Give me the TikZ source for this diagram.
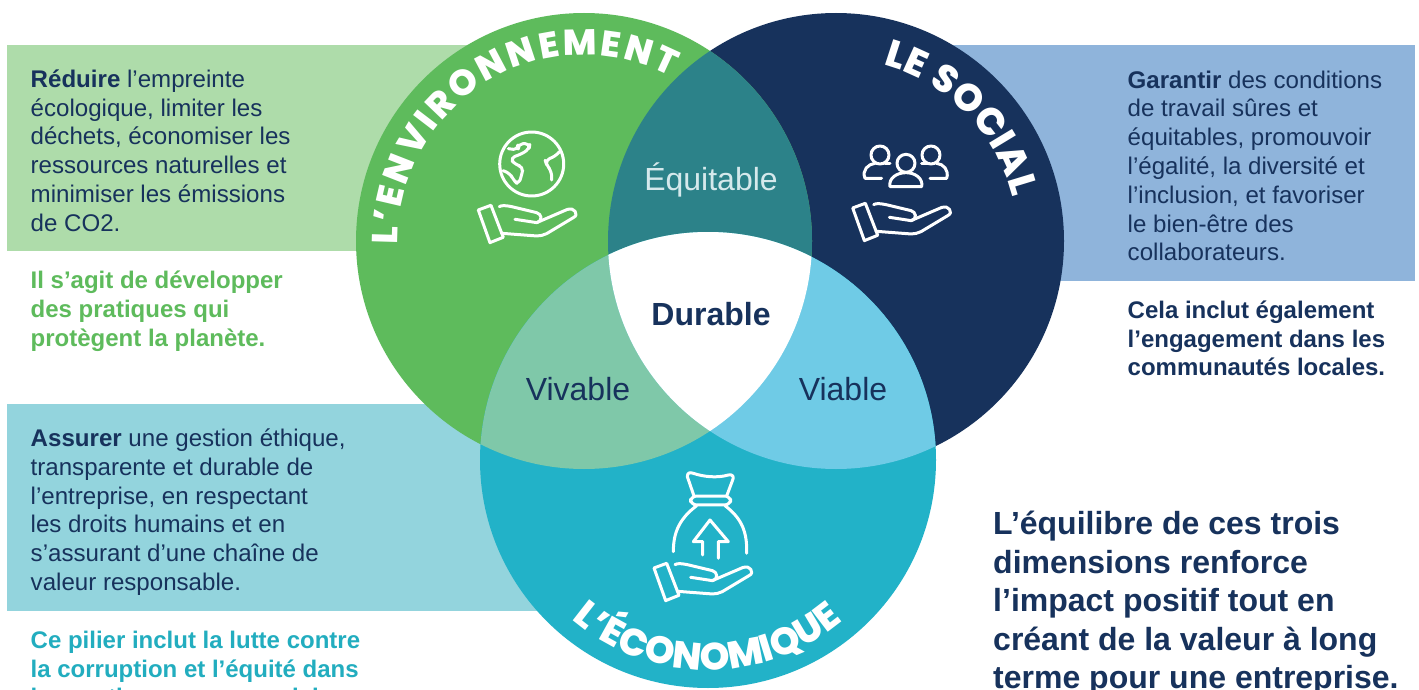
\documentclass[tikz,border=0pt]{standalone}
\usepackage{fontspec}
\setmainfont{Liberation Sans}
\newfontfamily\titlefont{Poppins ExtraBold}
\usetikzlibrary{positioning,decorations.text}
\definecolor{envgreen}{HTML}{5EBB5C}
\definecolor{socnavy}{HTML}{17325C}
\definecolor{ecocyan}{HTML}{22B2C8}
\definecolor{envband}{HTML}{AEDCAA}
\definecolor{socband}{HTML}{8FB4DB}
\definecolor{ecoband}{HTML}{93D4DD}
\definecolor{mixteal}{HTML}{2C8289}
\definecolor{mixgreen}{HTML}{7FC8A9}
\definecolor{mixblue}{HTML}{6FCBE6}
\definecolor{notecyan}{HTML}{22ADBF}
\definecolor{equitext}{HTML}{D5E9EC}
\tikzset{
    iconline/.style={draw=white,line width=3pt,line cap=round,line join=round,x=.3333pt,y=-.3333pt},
    blocktext/.style={anchor=north west,align=left,inner sep=0pt,text=socnavy,font=\fontsize{24.1}{28.8}\selectfont},
    notetext/.style={blocktext,font=\fontsize{24}{28.8}\selectfont\bfseries},
    venntext/.style={inner sep=0pt,text=socnavy,font=\fontsize{32}{32}\selectfont},
    handicon/.pic={
        \draw[iconline] (0,14) -- (38,0) -- (75,96) -- (35,112) -- cycle;
        \draw[iconline] (63,4) .. controls (70,0) and (80,0) .. (100,4) -- (175,22)
            .. controls (190,26) and (195,46) .. (175,52) -- (110,42);
        \draw[iconline] (175,52) -- (268,12) .. controls (285,4) and (305,28) .. (285,37)
            -- (205,85) .. controls (195,90) and (185,92) .. (175,92) -- (70,84);
    }
}
\begin{document}
\begin{tikzpicture}[x=1pt,y=1pt]
    \clip (0,0) rectangle (1419,-690);
    \fill[white] (0,0) rectangle (1419,-690);
    \coordinate (envc) at (584,-241);
    \coordinate (socc) at (836,-241);
    \coordinate (ecoc) at (708,-460);

    % bands behind the circles
    \fill[envband] (7,-45) rectangle (500,-251);
    \fill[socband] (930,-45) rectangle (1415,-281);
    \fill[ecoband] (7,-404) rectangle (560,-611);

    % circles and overlaps
    \fill[socnavy] (socc) circle (228);
    \fill[envgreen] (envc) circle (228);
    \fill[ecocyan] (ecoc) circle (228);
    \foreach \first/\second/\mixcol in {envc/socc/mixteal,envc/ecoc/mixgreen,socc/ecoc/mixblue} {
        \begin{scope}
            \clip (\first) circle (228);
            \fill[\mixcol] (\second) circle (228);
        \end{scope}
    }
    \begin{scope}
        \clip (envc) circle (228);
        \clip (socc) circle (228);
        \fill[white] (ecoc) circle (228);
    \end{scope}

    % titles on the arcs
    \path[decorate,decoration={text along path,text align=fit to path,
        text={|\titlefont\fontsize{36}{36}\selectfont\color{white}|L’ENVIRONNEMENT}}]
        ([shift={(181:186)}]envc) arc[start angle=181,end angle=62,radius=186];
    \path[decorate,decoration={text along path,text align=fit to path,
        text={|\titlefont\fontsize{38}{38}\selectfont\color{white}|LE SOCIAL}}]
        ([shift={(75:182)}]socc) arc[start angle=75,end angle=14,radius=182];
    \path[decorate,decoration={text along path,text align=fit to path,
        text={|\titlefont\fontsize{38}{38}\selectfont\color{white}|L’ÉCONOMIQUE}}]
        ([shift={(229.5:210)}]ecoc) arc[start angle=229.5,end angle=309,radius=210];

    % hands
    \pic at (478.3,-205.3) {handicon};
    \pic at (852.7,-203.3) {handicon};
    \pic at (654,-563.3) {handicon};

    % globe
    \begin{scope}[shift={(531.7,-164)}]
        \draw[iconline] (0,0) circle[radius=96];
        \draw[iconline,rounded corners=5pt] (-70,-46) -- (-40,-42) -- (-42,-60) -- (-5,-62) -- (-8,-44)
            -- (-35,-28) -- (-65,-18) -- (-50,2) -- (-25,8) -- (-30,33) -- (-40,63) -- (-55,48)
            -- (-65,28) -- (-86,20);
        \draw[iconline,rounded corners=5pt] (83,-37) -- (70,-22) -- (40,-12) -- (45,3) -- (60,23) -- (60,48);
    \end{scope}

    % people
    \begin{scope}[shift={(830,-120)}]
        \draw[iconline] (228,130) circle[radius=27];
        \draw[iconline] (150,105) circle[radius=27];
        \draw[iconline] (303,105) circle[radius=27];
        \draw[iconline] (180,200) -- (275,200) .. controls (280,175) and (255,158) .. (228,158)
            .. controls (200,158) and (175,175) .. (180,200) -- cycle;
        \draw[iconline] (155,175) -- (105,175) .. controls (95,150) and (115,132) .. (135,130);
        \draw[iconline] (180,130) -- (165,130);
        \draw[iconline] (300,175) -- (350,175) .. controls (358,150) and (340,132) .. (320,130);
        \draw[iconline] (275,130) -- (290,130);
    \end{scope}

    % money bag
    \begin{scope}[shift={(630,-460)}]
        \draw[iconline] (192,108) -- (172,50) .. controls (172,38) and (180,36) .. (190,40)
            .. controls (220,50) and (260,55) .. (295,45) .. controls (310,42) and (312,52) .. (308,60) -- (290,108);
        \draw[iconline,rounded corners=6pt] (182,108) rectangle (302,135);
        \draw[iconline] (200,137) .. controls (150,175) and (130,215) .. (130,275);
        \draw[iconline] (285,137) .. controls (335,175) and (352,215) .. (350,280);
        \draw[iconline] (218,285) -- (218,245) -- (190,245) -- (240,180) -- (295,245) -- (265,245) -- (265,295);
    \end{scope}

    % labels of the overlaps
    \node[venntext,text=equitext] (equitable) at (711,-179.5) {Équitable};
    \node[venntext,font=\fontsize{32}{32}\selectfont\bfseries] (durable) at (711,-314) {Durable};
    \node[venntext] (vivable) at (578,-389) {Vivable};
    \node[venntext] (viable) at (843,-389) {Viable};

    % left column
    \node[blocktext] (reduire) at (30.5,-69.5) {\textbf{Réduire} l’empreinte\\écologique, limiter les\\déchets, économiser les\\ressources naturelles et\\minimiser les émissions\\de CO2.};
    \node[notetext,text=envgreen,below=39pt of reduire.south west,anchor=north west] (planete) {Il s’agit de développer\\des pratiques qui\\protègent la planète.};
    \node[blocktext] (assurer) at (30.5,-428.5) {\textbf{Assurer} une gestion éthique,\\transparente et durable de\\l’entreprise, en respectant\\les droits humains et en\\s’assurant d’une chaîne de\\valeur responsable.};
    \node[notetext,text=notecyan,below=35pt of assurer.south west,anchor=north west] (corruption) {Ce pilier inclut la lutte contre\\la corruption et l’équité dans\\les pratiques commerciales.};

    % right column
    \node[blocktext] (garantir) at (1127.5,-70.5) {\textbf{Garantir} des conditions\\de travail sûres et\\équitables, promouvoir\\l’égalité, la diversité et\\l’inclusion, et favoriser\\le bien-être des\\collaborateurs.};
    \node[notetext,below=39pt of garantir.south west,anchor=north west] (engagement) {Cela inclut également\\l’engagement dans les\\communautés locales.};
    \node[blocktext,font=\fontsize{32}{38.5}\selectfont\bfseries] (equilibre) at (993,-511) {L’équilibre de ces trois\\dimensions renforce\\l’impact positif tout en\\créant de la valeur à long\\terme pour une entreprise.};
\end{tikzpicture}
\end{document}
